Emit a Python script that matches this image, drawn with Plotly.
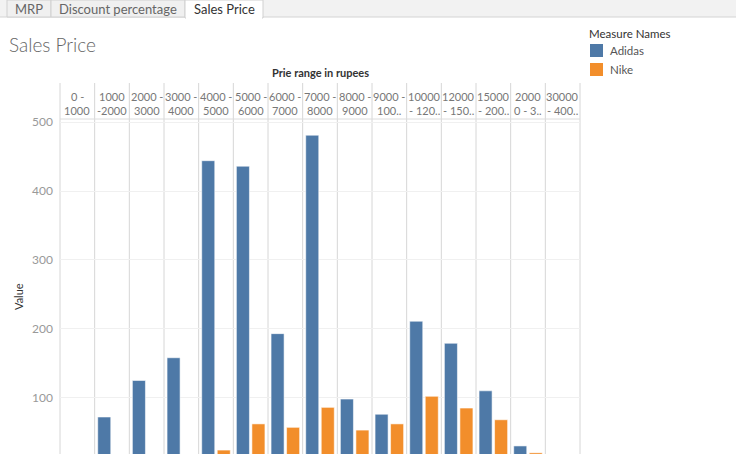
import plotly.graph_objects as go

# ---------------- data ----------------
categories = ["0-1000", "1000-2000", "2000-3000", "3000-4000", "4000-5000",
              "5000-6000", "6000-7000", "7000-8000", "8000-9000", "9000-10000",
              "10000-12000", "12000-15000", "15000-20000", "20000-30000", "30000-40000"]
header_line1 = ["0 -", "1000", "2000 -", "3000 -", "4000 -", "5000 -", "6000 -", "7000 -",
                "8000 -", "9000 -", "10000", "12000", "15000", "2000", "30000"]
header_line2 = ["1000", "-2000", "3000", "4000", "5000", "6000", "7000", "8000",
                "9000", "100..", "- 120..", "- 150..", "- 200..", "0 - 3..", "- 400.."]
adidas = [None, 72, 125, 158, 444, 436, 193, 481, 98, 76, 211, 179, 110, 30, None]
nike = [None, None, None, None, 24, 62, 57, 86, 53, 62, 102, 85, 68, 20, None]
y_ticks = [100, 200, 300, 400, 500]

# ---------------- layout helpers ----------------
W, H = 736, 454
L, R, T, B = 60, 580, 119, 454
PW, PH = R - L, B - T


def px(x):
    return (x - L) / PW


def py(y):
    return (B - y) / PH


BLUE = "#4e79a7"
ORANGE = "#f28e2b"
FONT = "Lato, 'Open Sans', sans-serif"

n = len(categories)
xs = list(range(n))

fig = go.Figure()
fig.add_trace(go.Bar(x=xs, y=adidas, name="Adidas", marker_color=BLUE,
                     marker_line=dict(color="rgba(255,255,255,0.55)", width=1)))
fig.add_trace(go.Bar(x=xs, y=nike, name="Nike", marker_color=ORANGE,
                     marker_line=dict(color="rgba(255,255,255,0.55)", width=1)))

shapes = []
annotations = []

# tab bar
shapes.append(dict(type="rect", xref="paper", yref="paper", x0=px(0), x1=px(W), y0=py(17), y1=py(0),
                   fillcolor="#f2f2f2", line=dict(width=0), layer="below"))
shapes.append(dict(type="line", xref="paper", yref="paper", x0=px(0), x1=px(W), y0=py(17), y1=py(17),
                   line=dict(color="#d4d4d4", width=1)))
tabs = [("MRP", 7, 51, False), ("Discount percentage", 51, 185, False), ("Sales Price", 185, 263, True)]
for label, a, b, active in tabs:
    shapes.append(dict(type="rect", xref="paper", yref="paper", x0=px(a), x1=px(b),
                       y0=py(18 if active else 17), y1=py(0),
                       fillcolor="#ffffff" if active else "#f0f0f0",
                       line=dict(color="#d0d0d0", width=1)))
    annotations.append(dict(text=label, xref="paper", yref="paper", x=px((a + b) / 2), y=py(9),
                            showarrow=False, xanchor="center", yanchor="middle",
                            font=dict(family=FONT, size=13, color="#333333" if active else "#666666")))
shapes.append(dict(type="rect", xref="paper", yref="paper", x0=px(186), x1=px(262), y0=py(19), y1=py(16),
                   fillcolor="#ffffff", line=dict(width=0)))

# title
annotations.append(dict(text="Sales Price", xref="paper", yref="paper", x=px(7), y=py(44),
                        showarrow=False, xanchor="left", yanchor="middle",
                        font=dict(family=FONT, size=19, color="#666666", weight=300)))

# column header
annotations.append(dict(text="<b>Prie range in rupees</b>", xref="paper", yref="paper", x=px(320), y=py(73),
                        showarrow=False, xanchor="center", yanchor="middle",
                        font=dict(family=FONT, size=11, color="#333333")))
for i in range(n):
    annotations.append(dict(text=header_line1[i], xref="x", yref="paper", x=xs[i], y=py(96),
                            showarrow=False, xanchor="center", yanchor="middle",
                            font=dict(family=FONT, size=11, color="#777777")))
    annotations.append(dict(text=header_line2[i], xref="x", yref="paper", x=xs[i], y=py(111),
                            showarrow=False, xanchor="center", yanchor="middle",
                            font=dict(family=FONT, size=11, color="#777777")))

# column separators (header + pane)
for k in range(n + 1):
    xp = k / n
    shapes.append(dict(type="line", xref="paper", yref="paper", x0=xp, x1=xp, y0=0, y1=py(83),
                       line=dict(color="#d6d6d6", width=1), layer="below"))
shapes.append(dict(type="line", xref="paper", yref="paper", x0=0, x1=1, y0=py(119), y1=py(119),
                   line=dict(color="#dcdcdc", width=1), layer="below"))

# y axis title
annotations.append(dict(text="Value", xref="paper", yref="paper", x=px(18), y=py(297),
                        showarrow=False, xanchor="center", yanchor="middle", textangle=-90,
                        font=dict(family=FONT, size=11, color="#333333")))

# legend
annotations.append(dict(text="Measure Names", xref="paper", yref="paper", x=px(587), y=py(33),
                        showarrow=False, xanchor="left", yanchor="middle",
                        font=dict(family=FONT, size=11.5, color="#333333")))
for j, (nm, col) in enumerate([("Adidas", BLUE), ("Nike", ORANGE)]):
    yc = 50.5 + 19 * j
    shapes.append(dict(type="rect", xref="paper", yref="paper", x0=px(590), x1=px(603),
                       y0=py(yc + 6.5), y1=py(yc - 6.5), fillcolor=col, line=dict(width=0)))
    annotations.append(dict(text=nm, xref="paper", yref="paper", x=px(608), y=py(yc),
                            showarrow=False, xanchor="left", yanchor="middle",
                            font=dict(family=FONT, size=11.5, color="#555555")))

fig.update_layout(
    width=W, height=H,
    margin=dict(l=L, r=W - R, t=T, b=H - B, pad=0),
    paper_bgcolor="#ffffff", plot_bgcolor="#ffffff",
    showlegend=False,
    barmode="group", bargap=0.105, bargroupgap=0.16,
    shapes=shapes, annotations=annotations,
    xaxis=dict(range=[-0.5, n - 0.5], showgrid=False, zeroline=False, showticklabels=False,
               ticks="", fixedrange=True),
    yaxis=dict(range=[18.3, 504.5], tickvals=y_ticks, showgrid=True, gridcolor="#f0f0f0",
               gridwidth=1, zeroline=False, ticks="", ticklabelstandoff=6,
               tickfont=dict(family=FONT, size=12, color="#999999"), showline=False),
)

fig.write_html("out.html")
